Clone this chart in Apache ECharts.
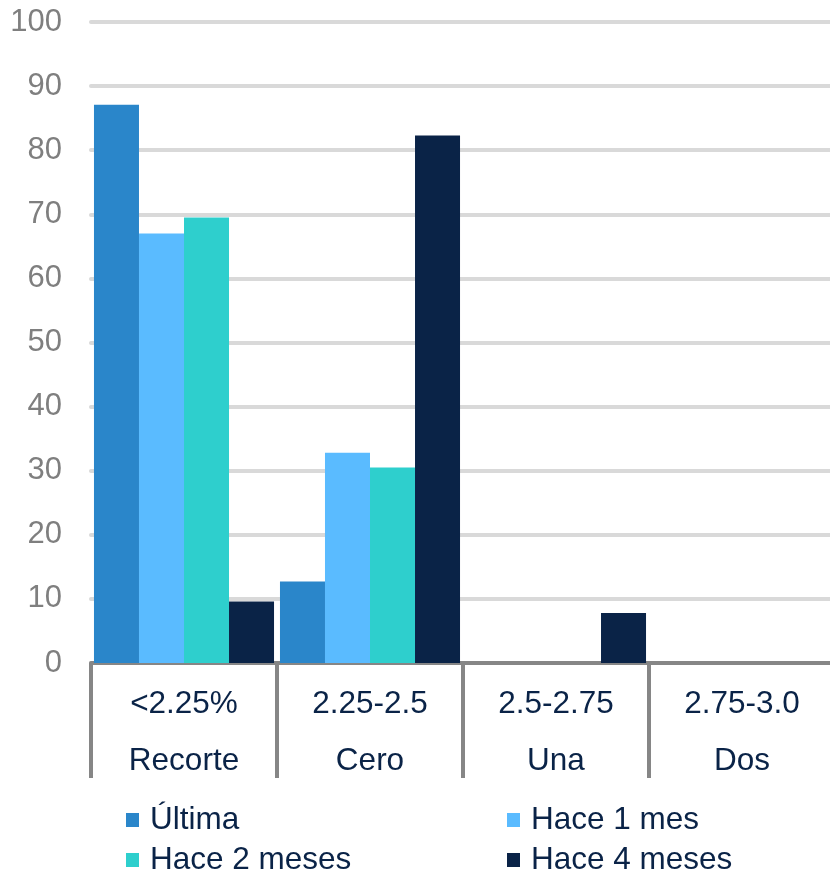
<!DOCTYPE html>
<html>
<head>
<meta charset="utf-8">
<script src="https://cdn.jsdelivr.net/npm/echarts@6/dist/echarts.min.js"></script>
<style>
  html, body { margin: 0; padding: 0; background: #ffffff; }
  #chart { width: 830px; height: 871px; }
</style>
</head>
<body>
<div id="chart"></div>
<script>
// Rate ranges with the implied move below each one
const categories = ['<2.25%\nRecorte', '2.25-2.5\nCero', '2.5-2.75\nUna', '2.75-3.0\nDos'];

// Probability (%) per survey
const ultima = [87.1, 12.7, 0, 0];
const hace1Mes = [67.0, 32.8, 0, 0];
const hace2Meses = [69.5, 30.5, 0, 0];
const hace4Meses = [9.6, 82.3, 7.8, 0];

const seriesNames = ['Última', 'Hace 1 mes', 'Hace 2 meses', 'Hace 4 meses'];
const seriesColors = ['#2A86CA', '#5ABBFF', '#2ECFCD', '#0A2347'];
const seriesData = [ultima, hace1Mes, hace2Meses, hace4Meses];

const yTicks = { min: 0, max: 100, interval: 10 };

const FONT = 'Liberation Sans, Arial, sans-serif';
const legendText = {
  fontFamily: FONT, fontSize: 31.5, color: '#0A2347',
  lineHeight: 30, padding: [0, 0, 0, 6]
};

// Legend in two columns, two rows
const legendSlots = [
  { left: 126, top: 804 },
  { left: 507, top: 804 },
  { left: 126, top: 844 },
  { left: 507, top: 844 }
];

const chart = echarts.init(document.getElementById('chart'), null, { renderer: 'canvas' });

chart.setOption({
  animation: false,
  backgroundColor: '#ffffff',
  grid: {
    left: 91, top: 22, width: 744, height: 641,
    containLabel: false, outerBoundsMode: 'none'
  },
  legend: seriesNames.map((name, i) => ({
    data: [name],
    left: legendSlots[i].left, top: legendSlots[i].top,
    padding: 0,
    itemWidth: 13, itemHeight: 14,
    icon: 'rect', textStyle: legendText
  })),
  xAxis: {
    type: 'category',
    data: categories,
    axisLine: { show: true, lineStyle: { color: '#868686', width: 4 } },
    axisTick: { show: true, length: 115, lineStyle: { color: '#868686', width: 4 } },
    axisLabel: {
      interval: 0, margin: 13,
      fontFamily: FONT, fontSize: 31.5, color: '#0A2347', lineHeight: 57
    }
  },
  yAxis: {
    type: 'value',
    min: yTicks.min, max: yTicks.max, interval: yTicks.interval,
    axisLine: { show: false },
    axisTick: { show: false },
    axisLabel: { margin: 29, fontFamily: FONT, fontSize: 31, color: '#7F7F7F' },
    splitLine: { lineStyle: { color: '#D9D9D9', width: 4, cap: 'round' } }
  },
  series: seriesData.map((d, i) => ({
    name: seriesNames[i],
    type: 'bar',
    data: d,
    barGap: '0%',
    barCategoryGap: '3.2%',
    itemStyle: { color: seriesColors[i] }
  }))
});
</script>
</body>
</html>
